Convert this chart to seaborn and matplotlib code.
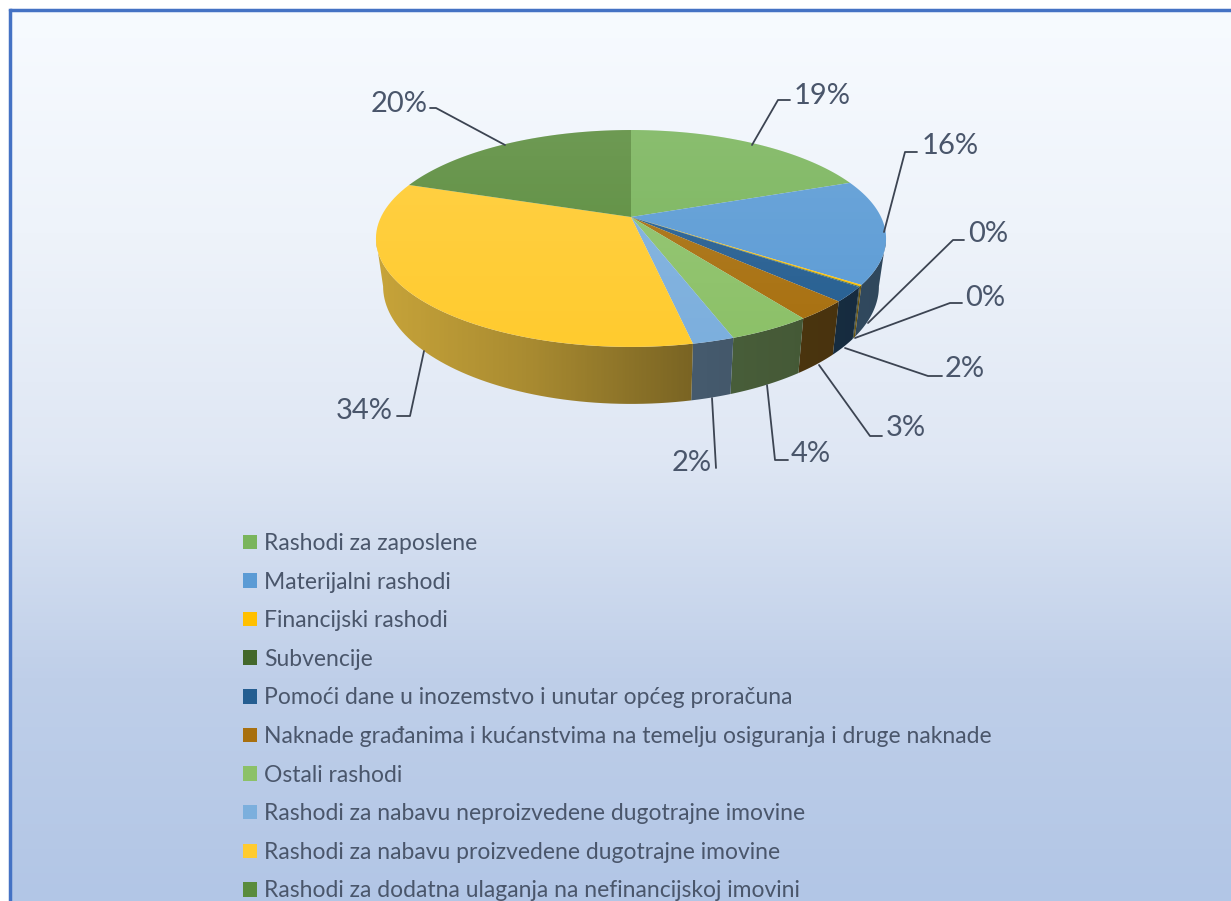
import numpy as np
import matplotlib.pyplot as plt
from matplotlib.colors import ListedColormap
from matplotlib.patches import Patch, Polygon
import seaborn as sns

categories = ['Rashodi za zaposlene', 'Materijalni rashodi', 'Financijski rashodi', 'Subvencije',
              'Pomoći dane u inozemstvo i unutar općeg proračuna',
              'Naknade građanima i kućanstvima na temelju osiguranja i druge naknade',
              'Ostali rashodi', 'Rashodi za nabavu neproizvedene dugotrajne imovine',
              'Rashodi za nabavu proizvedene dugotrajne imovine',
              'Rashodi za dodatna ulaganja na nefinancijskoj imovini']
shares = [19.3, 15.5, 0.2, 0.1, 2.2, 2.9, 4.4, 2.2, 33.5, 19.7]
labels = ['19%', '16%', '0%', '0%', '2%', '3%', '4%', '2%', '34%', '20%']
colors = ['#7AB55C', '#5B9BD5', '#FFC000', '#43682B', '#255E91',
          '#A8700F', '#8CC168', '#7CAFDD', '#FFCB2F', '#5A8C3C']

sns.set_theme(style='white')
plt.rcParams['font.family'] = ['Lato', 'DejaVu Sans']

W, H = 1231, 901
# pie apex in pixels, perspective strength
AX, AY, S, Q, K = 631, 217, 250, 104.2, 0.198
TEXT = '#4A566B'

fig = plt.figure(figsize=(W / 100, H / 100), dpi=100)
ax = fig.add_axes([0, 0, 1, 1])
ax.axis('off')


def project(deg):
    # clockwise degrees from 12 o'clock -> picture pixels, tilted disc with perspective
    t = np.radians(deg)
    u, v = np.sin(t), np.cos(t)
    return AX + S * u / (1 + K * v), AY - Q * v / (1 + K * v)


def drop(xs, ys):
    # bottom rim of the wall: a little narrower than the top, and lower towards the viewer
    return AX + (xs - AX) * 0.972, ys + 46 + 11 * (ys - AY) / 130


# background gradient
bg = ListedColormap(sns.blend_palette(['#F7FBFF', '#EEF3FA', '#DFE7F4', '#BFCFE9', '#B2C6E6'], 256))
ax.imshow(np.linspace(0, 1, 256).reshape(-1, 1), cmap=bg, extent=(10, W, H, 10), aspect='auto', zorder=0)
ax.plot([10, 10], [H, 10], color='#4472C4', lw=2.5, zorder=1, solid_capstyle='projecting')
ax.plot([10, W], [10, 10], color='#4472C4', lw=2.5, zorder=1)

edges = np.cumsum([0] + shares) * 3.6

# side wall, only the arc in front of the widest points is visible
front0, front1 = 90 + np.degrees(np.arcsin(K)), 270 - np.degrees(np.arcsin(K))
for i, c in enumerate(colors):
    a0, a1 = max(edges[i], front0), min(edges[i + 1], front1)
    if a1 <= a0:
        continue
    xs, ys = project(np.linspace(a0, a1, 60))
    bx, by = drop(xs, ys)
    clip = Polygon(np.vstack([np.column_stack([xs, ys]), np.column_stack([bx, by])[::-1]]),
                   transform=ax.transData, fc='none', ec='none')
    ax.add_patch(clip)
    wall = ListedColormap(sns.blend_palette([sns.desaturate(c, 0.8), '#000000'], 256))
    # lighter on the left, darkest on the right
    shade = np.interp(np.linspace(0, 1, 256), [0, 0.3, 0.62, 1], [0.15, 0.28, 0.48, 0.54]).reshape(1, -1)
    im = ax.imshow(shade, cmap=wall, vmin=0, vmax=1, extent=(AX - 255, AX + 255, 420, 200),
                   aspect='auto', zorder=3)
    im.set_clip_path(clip)

# top surface
for i, c in enumerate(colors):
    xs, ys = project(np.linspace(edges[i], edges[i + 1], 60))
    ax.fill(np.r_[AX, xs], np.r_[AY, ys], color=c, lw=0, zorder=5)

# soft highlight on the top surface
ox, oy = project(np.linspace(0, 360, 240))
outline = Polygon(np.column_stack([ox, oy]), transform=ax.transData, fc='none', ec='none')
ax.add_patch(outline)
hl = np.zeros((256, 1, 4))
hl[:, 0, :3] = 1
hl[:, 0, 3] = np.linspace(0.12, 0, 256)
im = ax.imshow(hl, extent=(AX - 255, AX + 255, 347, 130), aspect='auto', zorder=6)
im.set_clip_path(outline)

ax.set_xlim(0, W)
ax.set_ylim(H, 0)

# leader lines: slice edge, elbow, end; then label anchor
leaders = [((752, 145), (778, 100), (790, 100), (794, 93, 'left')),
           ((884, 232), (905, 152), (917, 152), (922, 143, 'left')),
           ((868, 323), (953, 240), (964, 240), (968, 231, 'left')),
           ((855, 338), (950, 303), (962, 303), (965, 295, 'left')),
           ((845, 348), (928, 376), (942, 376), (945, 366, 'left')),
           ((819, 365), (870, 436), (882, 436), (886, 425, 'left')),
           ((767, 385), (775, 460), (788, 460), (791, 451, 'left')),
           ((712, 398), (716, 468), (716, 468), (712, 460, 'right')),
           ((424, 351), (410, 416), (397, 416), (393, 408, 'right')),
           ((505, 145), (436, 108), (430, 108), (428, 101, 'right'))]
for lab, (a, b, c, (tx, ty, ha)) in zip(labels, leaders):
    xs, ys = zip(a, b, c)
    ax.plot(xs, ys, color='#3C4452', lw=1.3, zorder=8)
    ax.text(tx, ty + 3, lab, ha=ha, va='center', fontsize=21, color=TEXT, zorder=9)

handles = [Patch(fc=c, ec='none', label=n) for c, n in zip(colors, categories)]
fs = 16.5
px = fs * 100 / 72
ax.legend(handles=handles, loc='upper left', frameon=False, fontsize=fs, labelcolor=TEXT,
          bbox_to_anchor=(243 / W, 1 - 533 / H), bbox_transform=fig.transFigure,
          borderpad=0, borderaxespad=0, handlelength=14 / px, handleheight=0.6,
          handletextpad=7 / px, labelspacing=(39.15 - px * 0.94) / px)
ax.get_legend().set_zorder(9)

fig.savefig('out.png', dpi=100)
